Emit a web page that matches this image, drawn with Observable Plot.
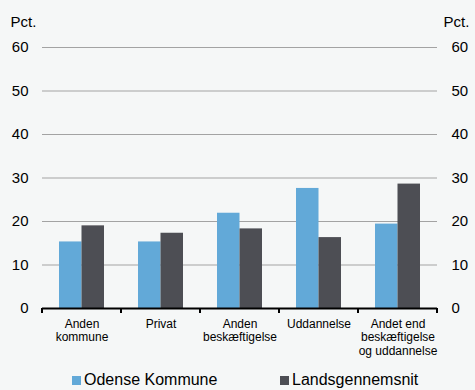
<!DOCTYPE html>
<html>
<head>
<meta charset="utf-8">
<script src="https://cdn.jsdelivr.net/npm/d3@7"></script>
<script src="https://cdn.jsdelivr.net/npm/@observablehq/plot@0.6"></script>
<style>
  html, body { margin: 0; padding: 0; background: #f5f7f7; width: 475px; height: 390px; overflow: hidden; }
  #wrap { position: relative; width: 475px; height: 390px; font-family: "Liberation Sans", Arial, sans-serif; }
  #legend { position: absolute; left: 0; top: 370px; width: 475px; height: 20px; font-size: 16px; line-height: 20px; color: #000; }
  .item { position: absolute; top: 0; white-space: nowrap; }
  .sw { display: inline-block; width: 9px; height: 9px; margin-right: 3px; vertical-align: baseline; }
</style>
</head>
<body>
<div id="wrap"><div id="chart"></div><div id="legend"></div></div>
<script>
const categories = ["Anden\nkommune", "Privat", "Anden\nbeskæftigelse", "Uddannelse", "Andet end\nbeskæftigelse\nog uddannelse"];
const seriesNames = ["Odense Kommune", "Landsgennemsnit"];
const odense = [15.3, 15.3, 21.9, 27.6, 19.4];
const lands = [19.0, 17.3, 18.3, 16.3, 28.6];
const colors = ["#62a9d8", "#4d4e54"];
const yTicks = [0, 10, 20, 30, 40, 50, 60];
const unitLabel = "Pct.";

const rows = [];
categories.forEach((c, i) => {
  rows.push({cat: c, series: seriesNames[0], value: odense[i]});
  rows.push({cat: c, series: seriesNames[1], value: lands[i]});
});

function boundaryTicks(...args) {
  const scales = args.find(a => a && typeof a.x === "function" && typeof a.y === "function");
  const x = scales.x, y = scales.y;
  const y0 = y(0);
  const bw = x.bandwidth ? x.bandwidth() : 0;
  const xs = categories.map(c => x(c));
  xs.push(x(categories[categories.length - 1]) + bw);
  const g = d3.create("svg:g").attr("stroke", "#000").attr("stroke-width", 2);
  xs.forEach(v => g.append("line").attr("x1", v).attr("x2", v).attr("y1", y0).attr("y2", y0 + 5));
  return g.node();
}

const chart = Plot.plot({
  width: 475,
  height: 368,
  marginLeft: 42,
  marginRight: 38,
  marginTop: 47,
  marginBottom: 60,
  style: { background: "transparent", fontFamily: "\"Liberation Sans\", Arial, sans-serif", color: "#000" },
  x: { domain: categories, padding: 0 },
  y: { domain: [0, 60], ticks: yTicks },
  color: { domain: seriesNames, range: colors },
  marks: [
    Plot.gridY(yTicks, { stroke: "#a3a3a3", strokeOpacity: 1, strokeWidth: 1 }),
    Plot.barY(rows.filter(d => d.series === seriesNames[0]), { x: "cat", y: "value", fill: "series", insetLeft: 17, insetRight: 39.5 }),
    Plot.barY(rows.filter(d => d.series === seriesNames[1]), { x: "cat", y: "value", fill: "series", insetLeft: 39.5, insetRight: 17 }),
    Plot.ruleY([0], { stroke: "#000", strokeWidth: 2 }),
    boundaryTicks,
    Plot.axisY(yTicks, { anchor: "left", tickSize: 0, tickPadding: 14, fontSize: 15, label: null }),
    Plot.axisY(yTicks, { anchor: "right", tickSize: 0, tickPadding: 14, fontSize: 15, label: null }),
    Plot.axisX({ tickSize: 0, tickPadding: 10, fontSize: 12, lineHeight: 1.12, label: null }),
    Plot.text([unitLabel], { frameAnchor: "top-left", text: d => d, dx: -32, dy: -21, textAnchor: "start", lineAnchor: "bottom", fontSize: 15 }),
    Plot.text([unitLabel], { frameAnchor: "top-right", text: d => d, dx: 6, dy: -21, textAnchor: "start", lineAnchor: "bottom", fontSize: 15 })
  ]
});
document.getElementById("chart").appendChild(chart);

const legend = document.getElementById("legend");
const legendX = [72, 280];
seriesNames.forEach((name, i) => {
  const it = document.createElement("span");
  it.className = "item";
  it.style.left = legendX[i] + "px";
  const sw = document.createElement("span");
  sw.className = "sw";
  sw.style.background = colors[i];
  it.appendChild(sw);
  it.appendChild(document.createTextNode(name));
  legend.appendChild(it);
});
</script>
</body>
</html>
